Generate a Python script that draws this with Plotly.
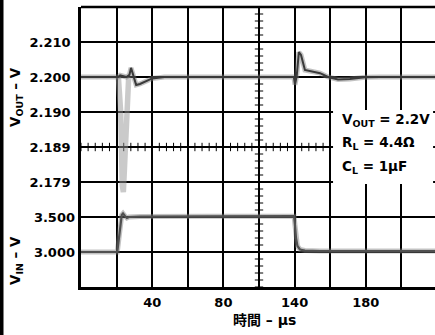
import plotly.graph_objects as go
import numpy as np

# ---------------- data ----------------
# time axis (µs), 20 µs / division; labelled divisions only
x_tick_vals = [40, 80, 120, 160]
x_tick_text = ["40", "80", "140", "180"]

# V_OUT scale (10 mV / div)
vout_tick_vals = [2.21, 2.20, 2.19, 2.18, 2.17]
vout_tick_text = ["2.210", "2.200", "2.190", "2.189", "2.179"]
# V_IN scale (0.5 V / div)
vin_tick_vals = [3.0, 3.5]
vin_tick_text = ["3.000", "3.500"]

vout_t = [0, 20.8, 22.0, 25.5, 27.2, 28.1, 29.3, 31.0, 33.1, 36.5, 40.0, 47.0, 70, 100,
          119.6, 120.2, 121.2, 122.4, 123.6, 125.8, 129.8, 134.3, 138.8, 144.4, 151.1,
          159.6, 168, 200]
vout_v = [2.2, 2.2, 2.2005, 2.2, 2.2006, 2.2026, 2.2006, 2.1977, 2.1980, 2.1989, 2.1996,
          2.2, 2.2, 2.2, 2.2, 2.1978, 2.2003, 2.2071, 2.2063, 2.2020, 2.2016, 2.2011,
          2.2, 2.1993, 2.1994, 2.1999, 2.2, 2.2]

vout_dip_t = [21.0, 22.3, 23.2, 23.8, 24.6, 25.6, 26.8]
vout_dip_v = [2.2000, 2.1900, 2.1690, 2.1671, 2.1760, 2.1900, 2.2000]

vin_t = [0, 20.4, 22.9, 23.6, 24.7, 25.8, 27.0, 33.1, 70, 119.7, 120.2, 120.8, 121.6,
         123.0, 125.8, 134.3, 200]
vin_v = [3.0, 3.0, 3.529, 3.55, 3.514, 3.486, 3.5, 3.507, 3.51, 3.512, 3.386, 3.2,
         3.086, 3.036, 3.021, 3.014, 3.014]

cond_lines = ["V<sub>OUT</sub> = 2.2V", "R<sub>L</sub> = 4.4Ω", "C<sub>L</sub> = 1µF"]
cond_y = [2.1877, 2.1811, 2.1742]

# ---------------- figure ----------------
W, H = 435, 335
L, R, T, B = 81, 0, 7, 48
plot_w = W - L - R
x_max = plot_w / 35.6 * 20
FONT = "DejaVu Sans, Noto Sans CJK JP, sans-serif"

fig = go.Figure()

# centre graticule minor ticks
cx = np.arange(0, 200.1, 4.0)
fig.add_trace(go.Scatter(x=cx, y=[2.18] * len(cx), mode="markers", hoverinfo="skip",
                         marker=dict(symbol="line-ns", size=6, line=dict(width=1, color="black")),
                         showlegend=False))
cy = np.arange(2.14, 2.2201, 0.002)
fig.add_trace(go.Scatter(x=[100] * len(cy), y=cy, mode="markers", hoverinfo="skip",
                         marker=dict(symbol="line-ew", size=6, line=dict(width=1, color="black")),
                         showlegend=False))

# V_OUT traces
fig.add_trace(go.Scatter(x=vout_dip_t, y=vout_dip_v, mode="lines", showlegend=False,
                         line=dict(color="rgba(150,150,150,0.5)", width=5.5)))
fig.add_trace(go.Scatter(x=vout_t, y=vout_v, mode="lines", showlegend=False,
                         line=dict(color="rgba(120,120,120,0.45)", width=5)))
fig.add_trace(go.Scatter(x=vout_t, y=vout_v, mode="lines", showlegend=False,
                         line=dict(color="#3a3a3a", width=2)))
# V_IN traces
fig.add_trace(go.Scatter(x=vin_t, y=vin_v, mode="lines", showlegend=False, yaxis="y2",
                         line=dict(color="rgba(120,120,120,0.45)", width=5)))
fig.add_trace(go.Scatter(x=vin_t, y=vin_v, mode="lines", showlegend=False, yaxis="y2",
                         line=dict(color="#505050", width=2.2)))

tickfont = dict(family=FONT, size=13, color="black", weight="bold")
grid = dict(showgrid=True, gridcolor="black", gridwidth=1.6)

fig.update_layout(
    width=W, height=H,
    margin=dict(l=L, r=R, t=T, b=B),
    paper_bgcolor="white", plot_bgcolor="white",
    font=dict(family=FONT, color="black"),
    xaxis=dict(range=[0, x_max], tickmode="array", tickvals=x_tick_vals, ticktext=x_tick_text,
               **grid,
               minor=dict(tick0=0, dtick=20, showgrid=True, gridcolor="black", gridwidth=1.6, ticks=""),
               showline=True, linecolor="black", linewidth=2.5,
               ticks="", tickfont=tickfont, zeroline=False, fixedrange=True,
               ticklabelstandoff=2),
    yaxis=dict(range=[2.14, 2.22], tickmode="array", tickvals=vout_tick_vals, ticktext=vout_tick_text,
               **grid,
               showline=True, linecolor="black", linewidth=2.5,
               ticks="", tickfont=tickfont, zeroline=False, ticklabelstandoff=5),
    yaxis2=dict(range=[2.5, 6.5], overlaying="y", side="left", anchor="x",
                tickmode="array", tickvals=vin_tick_vals, ticktext=vin_tick_text,
                **grid, showline=False,
                ticks="", tickfont=tickfont, zeroline=False, ticklabelstandoff=5),
)

shapes = []
# top border
shapes.append(dict(type="line", xref="paper", yref="paper", x0=0, x1=1, y0=1, y1=1,
                   line=dict(color="black", width=2.5)))
# white box behind conditions text
shapes.append(dict(type="rect", xref="x", yref="y", x0=141.6, x1=197.8, y0=2.1694, y1=2.1906,
                   fillcolor="white", line=dict(width=0), layer="above"))
# black strip at the far left edge
ph = H - T - B
shapes.append(dict(type="rect", xref="paper", yref="paper",
                   x0=-L / plot_w, x1=(3.5 - L) / plot_w,
                   y0=-(B + 2) / ph, y1=(H - B + 2) / ph,
                   fillcolor="black", line=dict(width=0)))
fig.update_layout(shapes=shapes)

ann = []
for txt, yy in zip(cond_lines, cond_y):
    ann.append(dict(x=145.3, y=yy, xref="x", yref="y", text=f"<b>{txt}</b>", showarrow=False,
                    xanchor="left", yanchor="middle", font=dict(family=FONT, size=13.5, color="black")))
# axis titles
ann.append(dict(x=(16 - L) / plot_w, y=(H - B - 97) / ph, xref="paper", yref="paper",
                text="<b>V<sub>OUT</sub> – V</b>", textangle=-90, showarrow=False,
                xanchor="center", yanchor="middle", font=dict(family=FONT, size=13.5)))
ann.append(dict(x=(16 - L) / plot_w, y=(H - B - 261) / ph, xref="paper", yref="paper",
                text="<b>V<sub>IN</sub> – V</b>", textangle=-90, showarrow=False,
                xanchor="center", yanchor="middle", font=dict(family=FONT, size=13.5)))
ann.append(dict(x=(264 - L) / plot_w, y=(H - B - 320) / ph, xref="paper", yref="paper",
                text="<b>時間 – µs</b>", showarrow=False,
                xanchor="center", yanchor="middle", font=dict(family=FONT, size=14)))
fig.update_layout(annotations=ann)

fig.write_html("out.html")
